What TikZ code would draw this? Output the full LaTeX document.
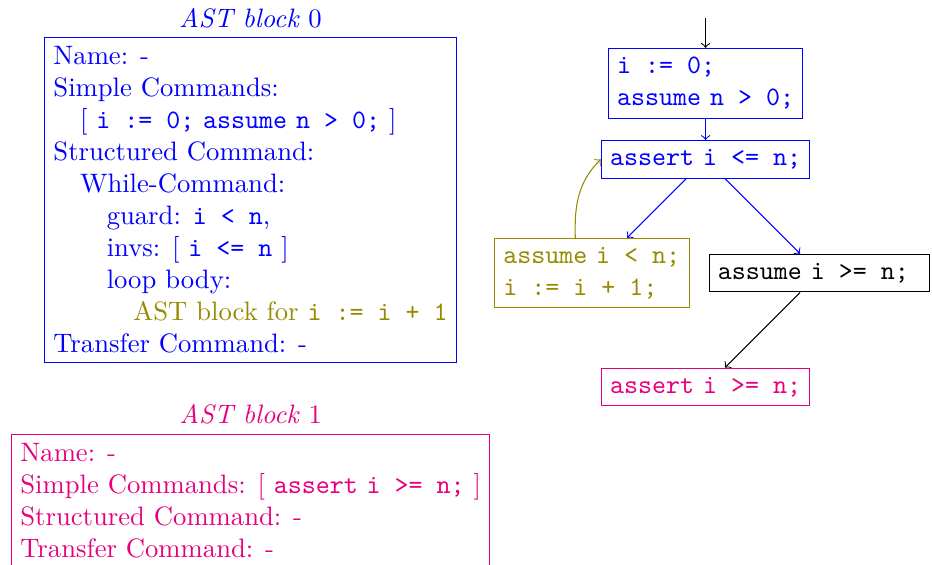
\documentclass[tikz,border=0pt]{standalone}
\colorlet{BlockGroupZero}{blue}
\definecolor{BlockLoop}{RGB}{150,138,0}
\definecolor{BlockGroupOne}{RGB}{230,0,126}
\tikzset{
    cfgbox/.style={draw, align=left},
    astbox/.style={draw, align=left, anchor=north west}
}

\begin{document}
\begin{tikzpicture}

    \useasboundingbox (0,0) rectangle (12.284,-7.434);

    \coordinate (P) at (0.580,-0.488);
    \coordinate (Q) at (0.145,-5.720);

    \coordinate (S) at (9.3,-0.24);
    \coordinate (I) at (9.3,-1.1);
    \coordinate (G) at (9.3,-2.1);
    \coordinate (B) at (7.8,-3.6);
    \coordinate (E) at (10.8,-3.6);
    \coordinate (F) at (9.3,-5.1);

    % Bloques AST
    \node [astbox, draw=BlockGroupZero, text=BlockGroupZero,
        label={[text=BlockGroupZero]above:{\textit{AST block} 0}}] (ast0) at (P) {Name: -\\
        Simple Commands:\\
        \hspace*{1em}[ \texttt{i := 0;} \texttt{assume} \texttt{n > 0;} ]\\
        Structured Command:\\
        \hspace*{1em}While-Command:\\
        \hspace*{2em}guard: \texttt{i < n},\\
        \hspace*{2em}invs: [ \texttt{i <= n} ]\\
        \hspace*{2em}loop body:\\
        \hspace*{3em}\textcolor{BlockLoop}{AST block for \texttt{i := i + 1}}\\
        Transfer Command: -};

    \node [astbox, draw=BlockGroupOne, text=BlockGroupOne,
        label={[text=BlockGroupOne]above:{\textit{AST block} 1}}] (ast1) at (Q) {Name: -\\
        Simple Commands: [ \texttt{assert} \texttt{i >= n;} ]\\
        Structured Command: -\\
        Transfer Command: -};

    % Grafo de control
    \node [cfgbox, draw=BlockGroupZero, text=BlockGroupZero] (init) at (I) {\texttt{i := 0;}\\ \texttt{assume} \texttt{n > 0;}};
    \node [cfgbox, draw=BlockGroupZero, text=BlockGroupZero] (guard) at (G) {\texttt{assert} \texttt{i <= n;}};
    \node [cfgbox, draw=BlockLoop, text=BlockLoop] (body) at (B) {\texttt{assume} \texttt{i < n;}\\ \texttt{i := i + 1;}};
    \node [cfgbox] (exit) at (E) {\texttt{assume} \texttt{i >= n;}\hspace{4.5pt}};
    \node [cfgbox, draw=BlockGroupOne, text=BlockGroupOne] (final) at (F) {\texttt{assert} \texttt{i >= n;}};

    \draw [->] (S) -- (init);
    \draw [->, BlockGroupZero] (init) -- (guard);
    \draw [->, BlockGroupZero] (guard) -- (body);
    \draw [->, BlockGroupZero] (guard) -- (exit);
    \draw [->, BlockLoop] (body.115) to [out=92, in=-135] (guard.west);
    \draw [->] (exit) -- (final);

\end{tikzpicture}
\end{document}
